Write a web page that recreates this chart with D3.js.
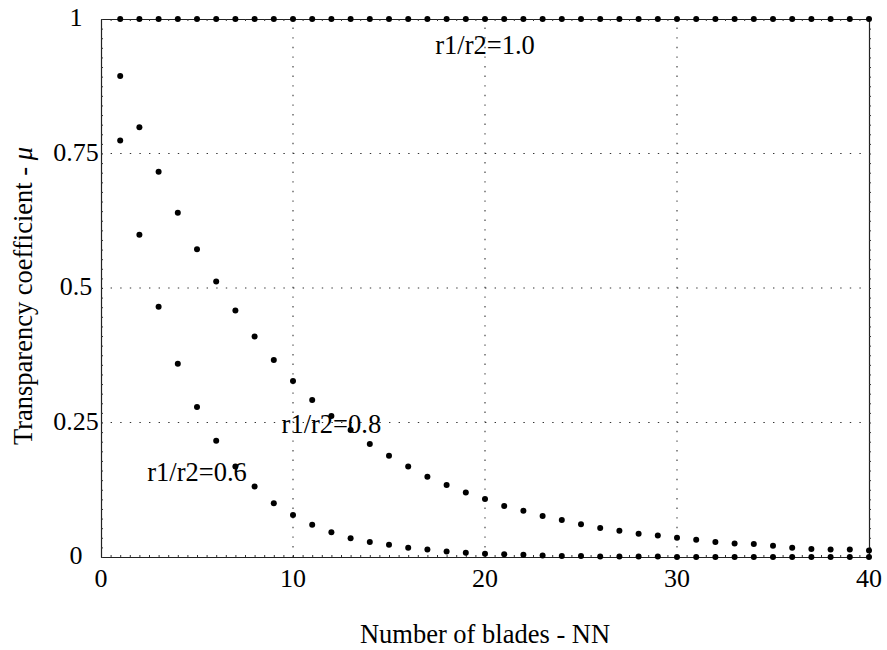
<!DOCTYPE html>
<html>
<head>
<meta charset="utf-8">
<script src="https://cdn.jsdelivr.net/npm/d3@7/dist/d3.min.js"></script>
<style>
  html, body { margin: 0; padding: 0; background: #fff; }
  svg { display: block; }
</style>
</head>
<body>
<script>
// Number of blades (x) and transparency coefficient for three radius ratios
const blades = d3.range(1, 41);

const mu10 = [1,1,1,1,1,1,1,1,1,1, 1,1,1,1,1,1,1,1,1,1,
              1,1,1,1,1,1,1,1,1,1, 1,1,1,1,1,1,1,1,1,1];

const mu08 = [0.894,0.799,0.716,0.640,0.572,0.512,0.458,0.410,0.366,0.327,
              0.292,0.262,0.236,0.210,0.188,0.168,0.149,0.134,0.120,0.108,
              0.095,0.086,0.076,0.069,0.061,0.054,0.049,0.043,0.040,0.036,
              0.032,0.028,0.025,0.024,0.021,0.017,0.015,0.014,0.014,0.012];

const mu06 = [0.774,0.599,0.465,0.359,0.279,0.216,0.168,0.131,0.100,0.078,
              0.060,0.046,0.035,0.028,0.023,0.017,0.014,0.010,0.008,0.006,
              0.005,0.004,0.003,0.002,0.002,0.001,0.001,0.001,0.001,0.000,
              0.000,0.000,0.000,0.000,0.000,0.000,0.000,0.000,0.000,0.000];

const series = [
  { name: "r1/r2=1.0", values: mu10, labelAt: [20, 0.952] },
  { name: "r1/r2=0.8", values: mu08, labelAt: [12, 0.248] },
  { name: "r1/r2=0.6", values: mu06, labelAt: [5, 0.158] }
];

const xTicks = [0, 10, 20, 30, 40];
const yTicks = [0, 0.25, 0.5, 0.75, 1];
const yTickLabels = ["0", "0.25", "0.5", "0.75", "1"];

const FONT = "'Liberation Serif', Tinos, 'DejaVu Serif', serif";

const W = 887, H = 650;
const x = d3.scaleLinear().domain([0, 40]).range([101, 869]);
const y = d3.scaleLinear().domain([0, 1]).range([557, 19]);

const svg = d3.select("body").append("svg")
  .attr("width", W).attr("height", H)
  .attr("font-family", FONT);

// dotted grid
const grid = svg.append("g")
  .attr("stroke", "#333").attr("stroke-width", 1.1).attr("stroke-dasharray", "1.4,8.2");
grid.selectAll("line.gx").data(xTicks.slice(1, -1)).join("line")
  .attr("x1", d => x(d)).attr("x2", d => x(d))
  .attr("y1", y(0)).attr("y2", y(1));
grid.selectAll("line.gy").data(yTicks.slice(1, -1)).join("line")
  .attr("y1", d => y(d)).attr("y2", d => y(d))
  .attr("x1", x(0)).attr("x2", x(40));

// frame with fine tick marks
const fineX = d3.range(0, 81).map(i => i / 2);
const fineY = d3.range(0, 57).map(i => i / 56);

function frameAxis(axis, transform) {
  const g = svg.append("g").attr("transform", transform).call(axis);
  g.selectAll("text").remove();
  g.select(".domain").attr("stroke", "#222").attr("stroke-width", 1.2);
  g.selectAll(".tick line").attr("stroke", "#333").attr("stroke-width", 1);
  return g;
}
frameAxis(d3.axisBottom(x).tickValues(fineX).tickSize(-2).tickSizeOuter(0), `translate(0,${y(0)})`);
frameAxis(d3.axisTop(x).tickValues(fineX).tickSize(-2).tickSizeOuter(0), `translate(0,${y(1)})`);
frameAxis(d3.axisLeft(y).tickValues(fineY).tickSize(-2).tickSizeOuter(0), `translate(${x(0)},0)`);
frameAxis(d3.axisRight(y).tickValues(fineY).tickSize(2).tickSizeOuter(0), `translate(${x(40)},0)`);

// tick labels
svg.append("g").selectAll("text").data(xTicks).join("text")
  .attr("x", d => x(d)).attr("y", 587)
  .attr("text-anchor", "middle").attr("font-size", 26)
  .attr("font-family", FONT)
  .text(d => d);
svg.append("g").selectAll("text").data(yTicks).join("text")
  .attr("x", 76).attr("y", d => y(d) + 7)
  .attr("text-anchor", "middle").attr("font-size", 26)
  .attr("font-family", FONT)
  .text((d, i) => yTickLabels[i]);

// axis titles
svg.append("text")
  .attr("x", (x(0) + x(40)) / 2).attr("y", 643)
  .attr("text-anchor", "middle").attr("font-size", 26.5)
  .attr("font-family", FONT)
  .text("Number of blades - NN");

const yt = svg.append("text")
  .attr("transform", `translate(32,${296}) rotate(-90)`)
  .attr("text-anchor", "middle").attr("font-size", 26.5)
  .attr("font-family", FONT);
yt.append("tspan").text("Transparency coefficient - ");
yt.append("tspan").attr("font-style", "italic").text("\u03bc");

// points
series.forEach(s => {
  svg.append("g").selectAll("circle").data(blades).join("circle")
    .attr("cx", (d) => x(d))
    .attr("cy", (d, i) => y(s.values[i]))
    .attr("r", 3)
    .attr("fill", "#000");
});

// series labels
svg.append("g").selectAll("text").data(series).join("text")
  .attr("x", d => x(d.labelAt[0])).attr("y", d => y(d.labelAt[1]))
  .attr("text-anchor", "middle").attr("dominant-baseline", "central")
  .attr("font-size", 26.5)
  .attr("font-family", FONT)
  .text(d => d.name);
</script>
</body>
</html>
